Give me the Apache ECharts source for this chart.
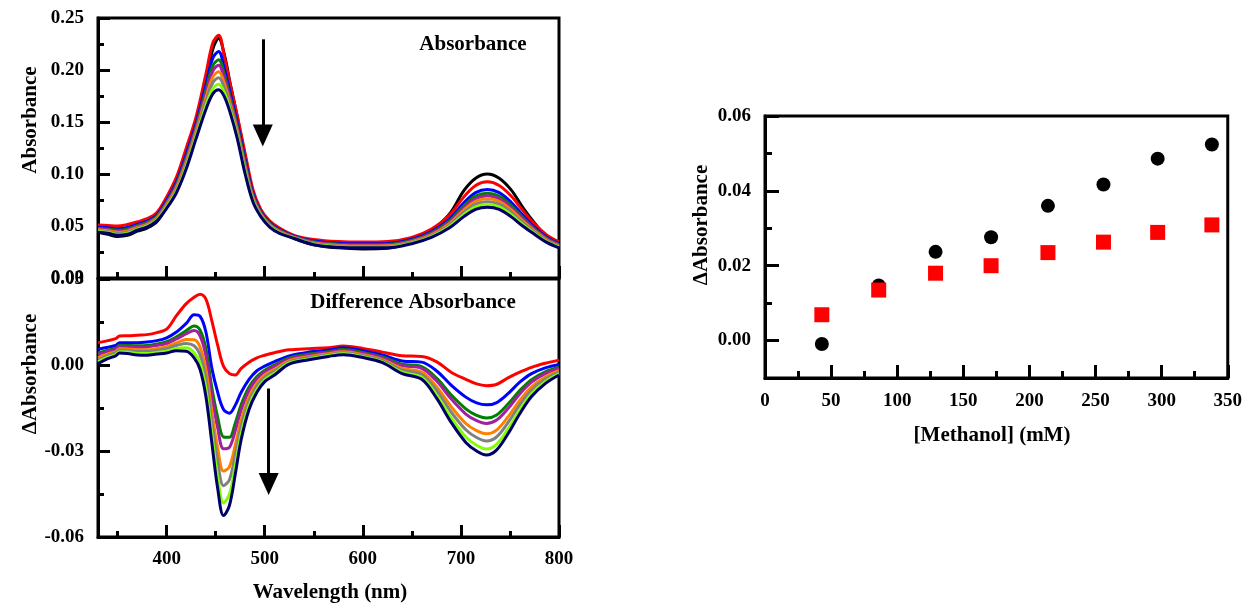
<!DOCTYPE html>
<html><head><meta charset="utf-8">
<script src="https://cdn.jsdelivr.net/npm/echarts@6/dist/echarts.min.js"></script>
<style>html,body{margin:0;padding:0;background:#fff}#c{width:1245px;height:605px}</style>
</head><body><div id="c"></div>
<script>
// ---------- Top panel: absorbance spectra ----------
const wl = [330, 340, 350, 360, 370, 380, 390, 400, 410, 420, 430, 440, 447, 453, 459, 465, 472, 480, 488, 496, 505, 515, 530, 550, 575, 600, 625, 650, 670, 688, 703, 715, 727, 739, 751, 763, 775, 788, 800];
const absBlack  = [0.044, 0.042, 0.040, 0.041, 0.045, 0.048, 0.054, 0.069, 0.090, 0.118, 0.150, 0.190, 0.220, 0.2305, 0.214, 0.186, 0.155, 0.117, 0.082, 0.063, 0.052, 0.045, 0.038, 0.032, 0.029, 0.028, 0.0285, 0.036, 0.046, 0.061, 0.084, 0.096, 0.100, 0.096, 0.085, 0.068, 0.053, 0.039, 0.032];
const absRed    = [0.051, 0.0505, 0.050, 0.0515, 0.054, 0.057, 0.063, 0.078, 0.097, 0.125, 0.155, 0.196, 0.226, 0.2335, 0.212, 0.185, 0.156, 0.120, 0.085, 0.066, 0.055, 0.048, 0.041, 0.037, 0.035, 0.0345, 0.035, 0.039, 0.047, 0.060, 0.078, 0.089, 0.0925, 0.089, 0.079, 0.065, 0.052, 0.041, 0.035];
const absBlue   = [0.0489, 0.0483, 0.0473, 0.0487, 0.0516, 0.0546, 0.0606, 0.0747, 0.0925, 0.119, 0.1487, 0.1858, 0.2113, 0.2178, 0.2006, 0.1769, 0.1494, 0.114, 0.0814, 0.0639, 0.0532, 0.0465, 0.0401, 0.0355, 0.0334, 0.0329, 0.0332, 0.0372, 0.0446, 0.0564, 0.0723, 0.0821, 0.0852, 0.0821, 0.073, 0.0605, 0.049, 0.0389, 0.0332];
const absGreen  = [0.0479, 0.0471, 0.046, 0.0472, 0.0504, 0.0534, 0.0594, 0.073, 0.0903, 0.116, 0.1456, 0.1807, 0.204, 0.2099, 0.1949, 0.1729, 0.1461, 0.111, 0.0796, 0.0629, 0.0523, 0.0458, 0.0397, 0.0348, 0.0325, 0.032, 0.0323, 0.0363, 0.0434, 0.0546, 0.0695, 0.0787, 0.0815, 0.0787, 0.070, 0.0583, 0.0475, 0.0379, 0.0323];
const absPurple = [0.0472, 0.0464, 0.0451, 0.0463, 0.0496, 0.0526, 0.0586, 0.072, 0.0888, 0.114, 0.1435, 0.1773, 0.199, 0.2046, 0.1911, 0.1702, 0.1439, 0.109, 0.0784, 0.0622, 0.0517, 0.0453, 0.0394, 0.0343, 0.032, 0.0315, 0.0317, 0.0357, 0.0426, 0.0534, 0.0676, 0.0764, 0.079, 0.0764, 0.068, 0.0568, 0.0465, 0.0372, 0.0317];
const absOrange = [0.0463, 0.0455, 0.044, 0.0451, 0.0486, 0.0516, 0.0576, 0.0706, 0.087, 0.1116, 0.1409, 0.1732, 0.1932, 0.1983, 0.1865, 0.1669, 0.1413, 0.1066, 0.077, 0.0613, 0.051, 0.0446, 0.039, 0.0336, 0.0313, 0.0308, 0.031, 0.035, 0.0416, 0.052, 0.0653, 0.0736, 0.0761, 0.0736, 0.0656, 0.055, 0.0453, 0.0363, 0.031];
const absGray   = [0.0455, 0.0446, 0.043, 0.0441, 0.0478, 0.0508, 0.0568, 0.0694, 0.0853, 0.1094, 0.1386, 0.1695, 0.1878, 0.1925, 0.1824, 0.1639, 0.1388, 0.1044, 0.0756, 0.0605, 0.0503, 0.0441, 0.0387, 0.0331, 0.0307, 0.0302, 0.0303, 0.0343, 0.0408, 0.0506, 0.0632, 0.0711, 0.0734, 0.0711, 0.0634, 0.0533, 0.0442, 0.0355, 0.0303];
const absLime   = [0.0447, 0.0437, 0.0419, 0.0429, 0.0468, 0.0498, 0.0558, 0.0681, 0.0835, 0.107, 0.1361, 0.1654, 0.1819, 0.1862, 0.1778, 0.1607, 0.1362, 0.102, 0.0742, 0.0597, 0.0496, 0.0435, 0.0383, 0.0325, 0.030, 0.0295, 0.0296, 0.0336, 0.0398, 0.0492, 0.0609, 0.0683, 0.0705, 0.0683, 0.061, 0.0515, 0.043, 0.0347, 0.0296];
const absNavy   = [0.044, 0.043, 0.041, 0.042, 0.046, 0.049, 0.055, 0.067, 0.082, 0.105, 0.134, 0.162, 0.177, 0.181, 0.174, 0.158, 0.134, 0.100, 0.073, 0.059, 0.049, 0.043, 0.038, 0.032, 0.0295, 0.029, 0.029, 0.033, 0.039, 0.048, 0.059, 0.066, 0.068, 0.066, 0.059, 0.050, 0.042, 0.034, 0.029];

// ---------- Bottom panel: difference spectra ----------
const wl2 = [330, 340, 348, 352, 360, 370, 380, 390, 400, 410, 420, 428, 434, 440, 446, 452, 458, 464, 470, 476, 484, 492, 500, 510, 525, 545, 565, 580, 600, 620, 640, 660, 675, 690, 705, 716, 726, 736, 748, 760, 772, 786, 800];
const dRed    = [0.0078, 0.0085, 0.0092, 0.0101, 0.0102, 0.0104, 0.0106, 0.0113, 0.0125, 0.0172, 0.0214, 0.0236, 0.0247, 0.0230, 0.0155, 0.0069, -0.0005, -0.0030, -0.0035, -0.0012, 0.0010, 0.0025, 0.0034, 0.0043, 0.0053, 0.0057, 0.0060, 0.0066, 0.0058, 0.0045, 0.0032, 0.0030, 0.0012, -0.0025, -0.0050, -0.0066, -0.0072, -0.0068, -0.0045, -0.0025, -0.0008, 0.0006, 0.0017];
const dBlue   = [0.0055, 0.0062, 0.0068, 0.0078, 0.0078, 0.0078, 0.0080, 0.0085, 0.0095, 0.0115, 0.0145, 0.0175, 0.0170, 0.0115, -0.0010, -0.0095, -0.0155, -0.0168, -0.0140, -0.0095, -0.0050, -0.0020, -0.0004, 0.0012, 0.0032, 0.0045, 0.0052, 0.0060, 0.0050, 0.0035, 0.0014, 0.0010, -0.0020, -0.0070, -0.0112, -0.0132, -0.0139, -0.0132, -0.0100, -0.0060, -0.0030, -0.0010, 0.0002];
const dGreen  = [0.0042, 0.0052, 0.0059, 0.0069, 0.0068, 0.0067, 0.0068, 0.0073, 0.0081, 0.0098, 0.012, 0.0136, 0.0122, 0.0057, -0.0078, -0.0182, -0.0251, -0.0252, -0.0202, -0.0138, -0.0077, -0.004, -0.0018, 0.0, 0.0025, 0.0038, 0.0046, 0.0054, 0.0044, 0.0028, 0.0003, -0.0006, -0.0045, -0.0104, -0.0153, -0.0176, -0.0185, -0.0175, -0.0136, -0.0089, -0.0051, -0.0024, -0.0008];
const dPurple = [0.0037, 0.0047, 0.0055, 0.0065, 0.0064, 0.0062, 0.0063, 0.0068, 0.0075, 0.0091, 0.0109, 0.012, 0.0102, 0.0032, -0.0106, -0.0219, -0.0292, -0.0287, -0.0229, -0.0156, -0.0089, -0.0048, -0.0024, -0.0005, 0.0021, 0.0035, 0.0044, 0.0051, 0.0041, 0.0025, -0.0002, -0.0012, -0.0055, -0.0118, -0.0171, -0.0194, -0.0204, -0.0193, -0.0152, -0.0101, -0.006, -0.003, -0.0012];
const dOrange = [0.0026, 0.0039, 0.0047, 0.0057, 0.0056, 0.0053, 0.0053, 0.0058, 0.0064, 0.0077, 0.0089, 0.0088, 0.0063, -0.0016, -0.0161, -0.0289, -0.037, -0.0355, -0.0279, -0.0191, -0.0111, -0.0064, -0.0035, -0.0015, 0.0015, 0.0029, 0.0039, 0.0046, 0.0036, 0.0019, -0.0012, -0.0025, -0.0075, -0.0145, -0.0204, -0.0229, -0.024, -0.0228, -0.0181, -0.0124, -0.0076, -0.0042, -0.002];
const dGray   = [0.0019, 0.0033, 0.0042, 0.0052, 0.0051, 0.0047, 0.0047, 0.0051, 0.0057, 0.0068, 0.0075, 0.0067, 0.0037, -0.0047, -0.0197, -0.0336, -0.0421, -0.040, -0.0313, -0.0214, -0.0126, -0.0074, -0.0043, -0.0022, 0.0011, 0.0026, 0.0036, 0.0043, 0.0033, 0.0016, -0.0018, -0.0033, -0.0088, -0.0164, -0.0226, -0.0253, -0.0265, -0.0252, -0.0201, -0.0139, -0.0088, -0.005, -0.0025];
const dLime   = [0.0011, 0.0027, 0.0036, 0.0046, 0.0045, 0.004, 0.004, 0.0044, 0.0048, 0.0058, 0.006, 0.0043, 0.0007, -0.0083, -0.0239, -0.039, -0.0481, -0.0451, -0.0351, -0.024, -0.0142, -0.0086, -0.0052, -0.0029, 0.0007, 0.0021, 0.0033, 0.0039, 0.0029, 0.0011, -0.0025, -0.0043, -0.0104, -0.0184, -0.0251, -0.028, -0.0293, -0.0278, -0.0223, -0.0157, -0.01, -0.0058, -0.0031];
const dNavy   = [0.0005, 0.0022, 0.0032, 0.0042, 0.0040, 0.0035, 0.0034, 0.0038, 0.0042, 0.0050, 0.0048, 0.0025, -0.0015, -0.0110, -0.0270, -0.0430, -0.0525, -0.0490, -0.0380, -0.0260, -0.0155, -0.0095, -0.0058, -0.0035, 0.0003, 0.0018, 0.0030, 0.0036, 0.0026, 0.0008, -0.0030, -0.0050, -0.0115, -0.0200, -0.0270, -0.0300, -0.0314, -0.0298, -0.0240, -0.0170, -0.0110, -0.0065, -0.0035];

// ---------- Right panel: titration ----------
const methanol = [43, 86, 129, 171, 214, 256, 297, 338];
const dA_circles = [-0.0009, 0.0147, 0.0237, 0.0276, 0.0360, 0.0417, 0.0486, 0.0524];
const dA_squares = [0.0069, 0.0135, 0.0180, 0.0200, 0.0235, 0.0263, 0.0289, 0.0309];

// ---------- ticks ----------
const wlMajor = [400, 500, 600, 700, 800];
const wlMinor = [350, 450, 550, 650, 750];
const rightYMajor = [0, 0.02, 0.04, 0.06];
const rightYMinor = [0.01, 0.03, 0.05];
// arrows (wavelength, value)
const arrowTop = [[498, 0.2295], [498, 0.137]];
const arrowBottom = [[504, -0.0082], [504, -0.0415]];

const FONT = "'Liberation Serif', 'Times New Roman', serif";
const lblStyle = {fontFamily: FONT, fontWeight: 'bold', fontSize: 19, color: '#000'};
const pair = (xs, ys) => xs.map((x, i) => [x, ys[i]]);

const topSeries = [
  ['#000000', absBlack], ['#ff0000', absRed], ['#0000ff', absBlue], ['#008000', absGreen],
  ['#a020a0', absPurple], ['#ff8000', absOrange], ['#808080', absGray], ['#80ff00', absLime], ['#000066', absNavy]
];
const botSeries = [
  ['#ff0000', dRed], ['#0000ff', dBlue], ['#008000', dGreen], ['#a020a0', dPurple],
  ['#ff8000', dOrange], ['#808080', dGray], ['#80ff00', dLime], ['#000066', dNavy]
];

const series = [];
topSeries.forEach(([c, v], i) => {
  series.push({type: 'line', xAxisIndex: 0, yAxisIndex: 0, data: pair(wl, v), showSymbol: false,
    smooth: 0.35, lineStyle: {color: c, width: 3}, itemStyle: {color: c}, silent: true, z: 2 + i});
});
botSeries.forEach(([c, v], i) => {
  series.push({type: 'line', xAxisIndex: 2, yAxisIndex: 1, data: pair(wl2, v), showSymbol: false,
    smooth: 0.35, lineStyle: {color: c, width: 3}, itemStyle: {color: c}, silent: true, z: 2 + i});
});
const arrowLine = (pts) => ({silent: true, symbol: ['none', 'triangle'], symbolSize: [20, 22],
  lineStyle: {color: '#000', width: 3, type: 'solid'}, itemStyle: {color: '#000'}, label: {show: false},
  animation: false, data: [[{coord: pts[0]}, {coord: pts[1]}]]});
series[0].markLine = arrowLine(arrowTop);
series[topSeries.length].markLine = arrowLine(arrowBottom);

series.push({type: 'scatter', xAxisIndex: 4, yAxisIndex: 2, data: pair(methanol, dA_circles),
  symbol: 'circle', symbolSize: 14, itemStyle: {color: '#000', opacity: 1}, silent: true, z: 3});
series.push({type: 'scatter', xAxisIndex: 4, yAxisIndex: 2, data: pair(methanol, dA_squares),
  symbol: 'rect', symbolSize: 15, itemStyle: {color: '#ff0000', opacity: 1}, silent: true, z: 4});

const frame = {show: true, borderColor: '#000', borderWidth: 3, backgroundColor: 'transparent'};
const axLine = {show: true, onZero: false, lineStyle: {color: '#000', width: 3}};
const noLine = {show: false, onZero: false};
const tick = (len, vals) => {
  const t = {show: true, inside: true, length: len, lineStyle: {color: '#000', width: 3}};
  if (vals) t.customValues = vals;
  return t;
};
const f2 = v => v.toFixed(2);

const option = {
  animation: false,
  backgroundColor: '#fff',
  grid: [
    Object.assign({left: 98, top: 18, width: 461, height: 260}, frame),
    Object.assign({left: 98, top: 279, width: 461, height: 258}, frame),
    Object.assign({left: 765, top: 116, width: 467, height: 262}, frame)
  ],
  xAxis: [
    {type: 'value', gridIndex: 0, position: 'bottom', min: 330, max: 800, axisLine: axLine, axisTick: tick(12, wlMajor),
      axisLabel: {show: false}, splitLine: {show: false}},
    {type: 'value', gridIndex: 0, position: 'bottom', min: 330, max: 800, axisLine: noLine, axisTick: tick(6, wlMinor),
      axisLabel: {show: false}, splitLine: {show: false}},
    {type: 'value', gridIndex: 1, position: 'bottom', min: 330, max: 800, axisLine: axLine, axisTick: tick(12, wlMajor),
      axisLabel: Object.assign({show: true, margin: 13, customValues: wlMajor}, lblStyle), splitLine: {show: false}},
    {type: 'value', gridIndex: 1, position: 'bottom', min: 330, max: 800, axisLine: noLine, axisTick: tick(6, wlMinor),
      axisLabel: {show: false}, splitLine: {show: false}},
    {type: 'value', gridIndex: 2, position: 'bottom', min: 0, max: 350, interval: 50, axisLine: axLine, axisTick: tick(13),
      minorTick: {show: true, splitNumber: 2, length: 7, lineStyle: {color: '#000', width: 3}},
      axisLabel: Object.assign({show: true, margin: 14}, lblStyle), splitLine: {show: false}, minorSplitLine: {show: false}}
  ],
  yAxis: [
    {type: 'value', gridIndex: 0, position: 'left', min: 0, max: 0.25, interval: 0.05, axisLine: axLine, axisTick: tick(12),
      minorTick: {show: true, splitNumber: 2, length: 6, lineStyle: {color: '#000', width: 3}},
      axisLabel: Object.assign({show: true, margin: 14, formatter: f2}, lblStyle), splitLine: {show: false}},
    {type: 'value', gridIndex: 1, position: 'left', min: -0.06, max: 0.03, interval: 0.03, axisLine: axLine, axisTick: tick(12),
      minorTick: {show: true, splitNumber: 2, length: 6, lineStyle: {color: '#000', width: 3}},
      axisLabel: Object.assign({show: true, margin: 14, formatter: f2}, lblStyle), splitLine: {show: false}},
    {type: 'value', gridIndex: 2, position: 'left', min: -0.01, max: 0.06, axisLine: axLine, axisTick: tick(14, rightYMajor),
      axisLabel: Object.assign({show: true, margin: 14, formatter: f2, customValues: rightYMajor}, lblStyle),
      splitLine: {show: false}},
    {type: 'value', gridIndex: 2, position: 'left', offset: 0, min: -0.01, max: 0.06, axisLine: noLine, axisTick: tick(7, rightYMinor),
      axisLabel: {show: false}, splitLine: {show: false}}
  ],
  graphic: [
    {type: 'text', x: 473, y: 45, style: {text: 'Absorbance', fontFamily: FONT, fontWeight: 'bold', fontSize: 21, fill: '#000', align: 'center', verticalAlign: 'middle'}},
    {type: 'text', x: 413, y: 303, style: {text: 'Difference Absorbance', fontFamily: FONT, fontWeight: 'bold', fontSize: 21, fill: '#000', align: 'center', verticalAlign: 'middle'}},
    {type: 'text', x: 31, y: 120, rotation: Math.PI / 2, style: {text: 'Absorbance', fontFamily: FONT, fontWeight: 'bold', fontSize: 21, fill: '#000', align: 'center', verticalAlign: 'middle'}},
    {type: 'text', x: 31, y: 374, rotation: Math.PI / 2, style: {text: 'ΔAbsorbance', fontFamily: FONT, fontWeight: 'bold', fontSize: 21, fill: '#000', align: 'center', verticalAlign: 'middle'}},
    {type: 'text', x: 330, y: 593, style: {text: 'Wavelength (nm)', fontFamily: FONT, fontWeight: 'bold', fontSize: 21, fill: '#000', align: 'center', verticalAlign: 'middle'}},
    {type: 'text', x: 702, y: 225, rotation: Math.PI / 2, style: {text: 'ΔAbsorbance', fontFamily: FONT, fontWeight: 'bold', fontSize: 21, fill: '#000', align: 'center', verticalAlign: 'middle'}},
    {type: 'text', x: 992, y: 436, style: {text: '[Methanol] (mM)', fontFamily: FONT, fontWeight: 'bold', fontSize: 21, fill: '#000', align: 'center', verticalAlign: 'middle'}}
  ],
  series: series
};
const chart = echarts.init(document.getElementById('c'), null, {renderer: 'canvas'});
chart.setOption(option);
</script>
</body></html>
